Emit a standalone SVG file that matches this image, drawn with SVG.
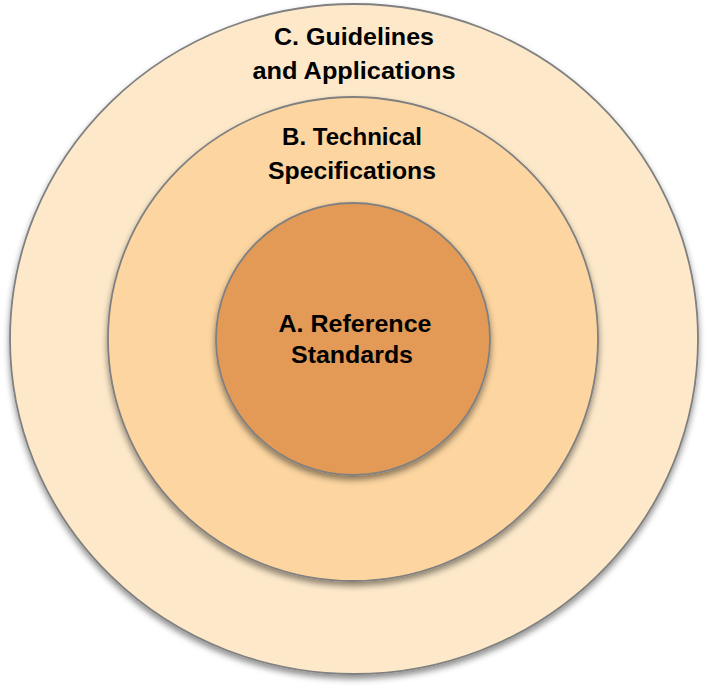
<svg xmlns="http://www.w3.org/2000/svg" width="708" height="691" viewBox="0 0 708 691">
<defs>
<filter id="sh" x="-10%" y="-10%" width="120%" height="125%">
<feDropShadow dx="0" dy="4" stdDeviation="3" flood-color="#000" flood-opacity="0.45"/>
</filter>
</defs>
<style>
.ring{stroke:#808080;stroke-width:1.8;filter:url(#sh)}
.lbl{font-family:"Liberation Sans",Arial,sans-serif;font-weight:bold;font-size:24px;fill:#000;text-anchor:middle}
</style>
<rect width="708" height="691" fill="#fff"/>
<g id="outer">
<ellipse class="ring" cx="354" cy="339" rx="344" ry="335" fill="#FDE9CA"/>
<text class="lbl" x="354" y="45" textLength="160" lengthAdjust="spacingAndGlyphs">C. Guidelines</text>
<text class="lbl" x="354" y="79" textLength="203" lengthAdjust="spacingAndGlyphs">and Applications</text>
</g>
<g id="middle">
<ellipse class="ring" cx="353" cy="339" rx="245" ry="242" fill="#FCD5A0"/>
<text class="lbl" x="352" y="145" textLength="140" lengthAdjust="spacingAndGlyphs">B. Technical</text>
<text class="lbl" x="352" y="179" textLength="168" lengthAdjust="spacingAndGlyphs">Specifications</text>
</g>
<g id="inner">
<ellipse class="ring" cx="353" cy="339" rx="137" ry="136" fill="#E29A56"/>
<text class="lbl" x="355" y="332" textLength="153" lengthAdjust="spacingAndGlyphs">A. Reference</text>
<text class="lbl" x="352" y="363" textLength="122" lengthAdjust="spacingAndGlyphs">Standards</text>
</g>
<g id="connectors"/>
</svg>
